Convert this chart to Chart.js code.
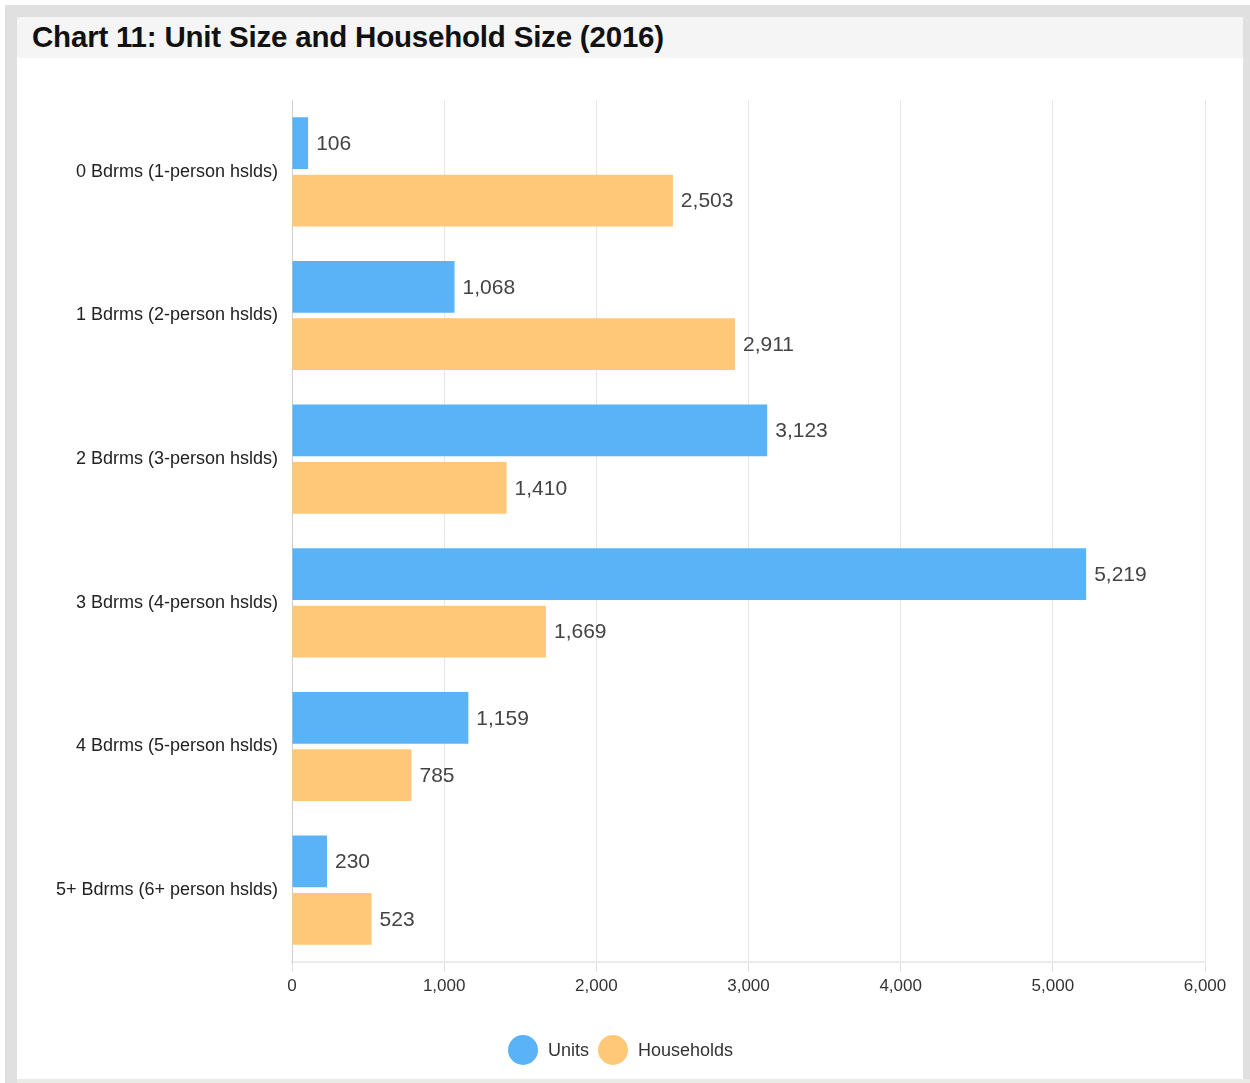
<!DOCTYPE html>
<html>
<head>
<meta charset="utf-8">
<script src="https://cdn.jsdelivr.net/npm/chart.js@4.4.1/dist/chart.umd.min.js"></script>
<style>
  html, body { margin: 0; padding: 0; background: #ffffff; width: 1250px; height: 1083px; overflow: hidden; }
  body { position: relative; font-family: "Liberation Sans", Arial, Helvetica, sans-serif; }
  #outer { position: absolute; left: 5px; top: 5px; width: 1245px; height: 1078px; background: #e0e0e0; }
  #bottomstrip { position: absolute; left: 17px; top: 1079px; width: 1233px; height: 4px; background: #ebebe6; }
  #panel { position: absolute; left: 17px; top: 17px; width: 1226px; height: 1062px; background: #ffffff; border-radius: 3px 3px 0 0; overflow: hidden; }
  #titlebar { position: absolute; left: 0; top: 0; width: 1226px; height: 41px; background: #f5f5f5; }
  #title { position: absolute; left: 15px; top: 3px; font-size: 29.5px; font-weight: bold; color: #111; white-space: nowrap; letter-spacing: -0.2px; }
  #chartwrap { position: absolute; left: 0; top: 41px; width: 1226px; height: 1021px; }
  #legend { position: absolute; left: 491px; top: 1018px; height: 30px; display: flex; align-items: center; font-size: 18px; color: #333; white-space: nowrap; }
  .dot { width: 30px; height: 30px; border-radius: 50%; display: inline-block; margin-right: 10px; }
  .item { display: flex; align-items: center; margin-right: 9px; }
</style>
</head>
<body>
<div id="outer"></div>
<div id="bottomstrip"></div>
<div id="panel">
  <div id="titlebar"><div id="title">Chart 11: Unit Size and Household Size (2016)</div></div>
  <div id="chartwrap"><canvas id="c" width="1226" height="1021"></canvas></div>
  <div id="legend"></div>
</div>
<script>
const categories = [
  "0 Bdrms (1-person hslds)",
  "1 Bdrms (2-person hslds)",
  "2 Bdrms (3-person hslds)",
  "3 Bdrms (4-person hslds)",
  "4 Bdrms (5-person hslds)",
  "5+ Bdrms (6+ person hslds)"
];
const unitsValues = [106, 1068, 3123, 5219, 1159, 230];
const householdsValues = [2503, 2911, 1410, 1669, 785, 523];
const seriesNames = ["Units", "Households"];
const seriesColors = ["#5ab3f6", "#ffc878"];
const xTickMax = 6000;
const xTickStep = 1000;

const FONT = '"Liberation Sans", Arial, Helvetica, sans-serif';

const valueLabels = {
  id: 'valueLabels',
  afterDatasetsDraw(chart) {
    const ctx = chart.ctx;
    ctx.save();
    ctx.font = '21px ' + FONT;
    ctx.fillStyle = '#444';
    ctx.textAlign = 'left';
    ctx.textBaseline = 'middle';
    chart.data.datasets.forEach((ds, di) => {
      const meta = chart.getDatasetMeta(di);
      meta.data.forEach((bar, i) => {
        const v = ds.data[i];
        ctx.fillText(v.toLocaleString('en-US'), bar.x + 8, bar.y + 1);
      });
    });
    ctx.restore();
  }
};

const ctx = document.getElementById('c').getContext('2d');
new Chart(ctx, {
  type: 'bar',
  data: {
    labels: categories,
    datasets: [
      { label: seriesNames[0], data: unitsValues, backgroundColor: seriesColors[0], borderWidth: 0 },
      { label: seriesNames[1], data: householdsValues, backgroundColor: seriesColors[1], borderWidth: 0 }
    ]
  },
  options: {
    indexAxis: 'y',
    responsive: false,
    animation: false,
    maintainAspectRatio: false,
    layout: { padding: { top: 42, right: 38, bottom: 67, left: 0 } },
    plugins: {
      legend: { display: false },
      tooltip: { enabled: false },
      title: { display: false }
    },
    datasets: { bar: { categoryPercentage: 0.8, barPercentage: 0.9 } },
    scales: {
      x: {
        min: 0,
        max: xTickMax,
        ticks: {
          stepSize: xTickStep,
          color: '#333',
          font: { family: FONT, size: 17 },
          padding: 4,
          maxRotation: 0,
          callback: (v) => Number(v).toLocaleString('en-US')
        },
        grid: { color: '#e6e6e6', lineWidth: 1, drawTicks: true, tickLength: 10, tickColor: '#e0e0e0' },
        border: { display: true, color: '#ececec', width: 2 },
        afterFit(scale) { scale.height = 50; }
      },
      y: {
        ticks: {
          color: '#222',
          font: { family: FONT, size: 18 },
          padding: 14
        },
        grid: { display: false, drawTicks: false },
        border: { display: true, color: '#cfcfcf', width: 1 },
        afterFit(scale) { scale.width = 275; }
      }
    }
  },
  plugins: [valueLabels]
});

const legend = document.getElementById('legend');
seriesNames.forEach((name, i) => {
  const item = document.createElement('div');
  item.className = 'item';
  const dot = document.createElement('span');
  dot.className = 'dot';
  dot.style.background = seriesColors[i];
  const txt = document.createElement('span');
  txt.textContent = name;
  item.appendChild(dot);
  item.appendChild(txt);
  legend.appendChild(item);
});
</script>
</body>
</html>
